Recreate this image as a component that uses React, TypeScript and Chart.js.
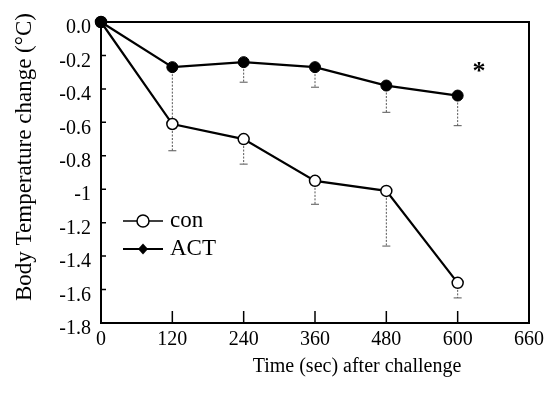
import { useEffect, useRef } from "react";
import { Chart, registerables } from "chart.js";

Chart.register(...registerables);

const timesSec = [0, 120, 240, 360, 480, 600];
const conValues = [0, -0.61, -0.7, -0.95, -1.01, -1.56];
const conErrors = [0, 0.16, 0.15, 0.14, 0.33, 0.09];
const actValues = [0, -0.27, -0.24, -0.27, -0.38, -0.44];
const actErrors = [0, 0.33, 0.12, 0.12, 0.16, 0.18];
const xTickLabels = ["0", "120", "240", "360", "480", "600", "660"];
const yTickLabels = ["-1.8", "-1.6", "-1.4", "-1.2", "-1", "-0.8", "-0.6", "-0.4", "-0.2", "0.0"];
const seriesNames = ["con", "ACT"];
const xTitle = "Time (sec) after challenge";
const yTitle = "Body Temperature change (\u00B0C)";
const significanceMark = "*";

const FONT = "'Liberation Serif', 'Times New Roman', serif";

const decorPlugin = {
  id: "decor",
  beforeDatasetsDraw(chart: any) {
    const { ctx, chartArea: a, scales } = chart;
    const xs = scales.x;
    const ys = scales.y;
    ctx.save();
    // frame
    ctx.strokeStyle = "#000";
    ctx.lineWidth = 2;
    ctx.strokeRect(a.left, a.top, a.right - a.left, a.bottom - a.top);
    // inside ticks
    ctx.lineWidth = 1.5;
    ctx.beginPath();
    xs.ticks.forEach((t: any) => {
      const px = xs.getPixelForValue(t.value);
      ctx.moveTo(px, a.bottom);
      ctx.lineTo(px, a.bottom - 12);
    });
    ys.ticks.forEach((t: any) => {
      const py = ys.getPixelForValue(t.value);
      ctx.moveTo(a.left, py);
      ctx.lineTo(a.left + 5, py);
    });
    ctx.stroke();
    // error bars (downward only)
    const bars = [
      { v: conValues, e: conErrors },
      { v: actValues, e: actErrors },
    ];
    ctx.strokeStyle = "#555";
    ctx.lineWidth = 1;
    bars.forEach((b) => {
      timesSec.forEach((t, i) => {
        if (!b.e[i]) return;
        const px = xs.getPixelForValue(t);
        const y0 = ys.getPixelForValue(b.v[i]);
        const y1 = ys.getPixelForValue(b.v[i] - b.e[i]);
        ctx.setLineDash([2, 1.5]);
        ctx.beginPath();
        ctx.moveTo(px, y0);
        ctx.lineTo(px, y1);
        ctx.stroke();
        ctx.setLineDash([]);
        ctx.beginPath();
        ctx.moveTo(px - 4, y1);
        ctx.lineTo(px + 4, y1);
        ctx.stroke();
      });
    });
    ctx.restore();
  },
  afterDraw(chart: any) {
    const { ctx, scales } = chart;
    const xs = scales.x;
    const ys = scales.y;
    ctx.save();
    ctx.fillStyle = "#000";
    // x title
    ctx.font = `20px ${FONT}`;
    ctx.textAlign = "center";
    ctx.textBaseline = "middle";
    ctx.fillText(xTitle, 357, 367);
    // y title
    ctx.save();
    ctx.translate(25, 157);
    ctx.rotate(-Math.PI / 2);
    ctx.font = `23px ${FONT}`;
    ctx.fillText(yTitle, 0, 0);
    ctx.restore();
    // asterisk
    ctx.font = `bold 26px ${FONT}`;
    ctx.fillText(significanceMark, xs.getPixelForValue(636), ys.getPixelForValue(-0.3));
    // legend
    const lx0 = 123, lx1 = 163, mx = 143;
    const rows = [221, 249];
    ctx.strokeStyle = "#000";
    // con row
    ctx.lineWidth = 1.5;
    ctx.beginPath();
    ctx.moveTo(lx0, rows[0]);
    ctx.lineTo(lx1, rows[0]);
    ctx.stroke();
    ctx.beginPath();
    ctx.arc(mx, rows[0], 6, 0, Math.PI * 2);
    ctx.fillStyle = "#fff";
    ctx.fill();
    ctx.stroke();
    // ACT row
    ctx.lineWidth = 2;
    ctx.beginPath();
    ctx.moveTo(lx0, rows[1]);
    ctx.lineTo(lx1, rows[1]);
    ctx.stroke();
    ctx.fillStyle = "#000";
    ctx.beginPath();
    ctx.moveTo(mx, rows[1] - 5.5);
    ctx.lineTo(mx + 5, rows[1]);
    ctx.lineTo(mx, rows[1] + 5.5);
    ctx.lineTo(mx - 5, rows[1]);
    ctx.closePath();
    ctx.fill();
    ctx.font = `23px ${FONT}`;
    ctx.textAlign = "left";
    ctx.fillText(seriesNames[0], 170, rows[0]);
    ctx.fillText(seriesNames[1], 170, rows[1]);
    ctx.restore();
  },
};

export default function App() {
  const ref = useRef<HTMLCanvasElement>(null);
  useEffect(() => {
    if (!ref.current) return;
    const chart = new Chart(ref.current, {
      type: "line",
      data: {
        datasets: [
          {
            label: seriesNames[0],
            data: timesSec.map((t, i) => ({ x: t, y: conValues[i] })),
            borderColor: "#000",
            borderWidth: 2.2,
            pointRadius: 5.5,
            pointBackgroundColor: "#fff",
            pointBorderColor: "#000",
            pointBorderWidth: 1.5,
            clip: false,
            order: 1,
          },
          {
            label: seriesNames[1],
            data: timesSec.map((t, i) => ({ x: t, y: actValues[i] })),
            borderColor: "#000",
            borderWidth: 2.2,
            pointRadius: 5.5,
            pointBackgroundColor: "#000",
            pointBorderColor: "#000",
            pointBorderWidth: 1,
            clip: false,
            order: 0,
          },
        ],
      } as any,
      options: {
        responsive: true,
        maintainAspectRatio: false,
        animation: false,
        layout: { padding: { top: 16, right: 16, left: 0, bottom: 0 } },
        plugins: { legend: { display: false }, tooltip: { enabled: false } },
        scales: {
          x: {
            type: "linear",
            min: 0,
            max: 720,
            grid: { display: false, drawTicks: false },
            border: { display: false },
            ticks: {
              stepSize: 120,
              autoSkip: false,
              maxRotation: 0,
              padding: 5,
              color: "#000",
              font: { family: FONT, size: 20 },
              callback: (_v: any, i: number) => xTickLabels[i],
            },
            afterFit: (s: any) => {
              s.height = 71;
            },
          },
          y: {
            type: "linear",
            min: -1.8,
            max: 0,
            grid: { display: false, drawTicks: false },
            border: { display: false },
            ticks: {
              stepSize: 0.2,
              autoSkip: false,
              padding: 10,
              labelOffset: 6,
              color: "#000",
              font: { family: FONT, size: 20 },
              callback: (_v: any, i: number) => yTickLabels[i],
            },
            afterFit: (s: any) => {
              s.width = 101;
            },
          },
        },
      } as any,
      plugins: [decorPlugin],
    });
    return () => chart.destroy();
  }, []);
  return (
    <div style={{ position: "fixed", left: 0, top: 0, width: 549, height: 394, background: "#fff" }}>
      <canvas ref={ref} />
    </div>
  );
}
